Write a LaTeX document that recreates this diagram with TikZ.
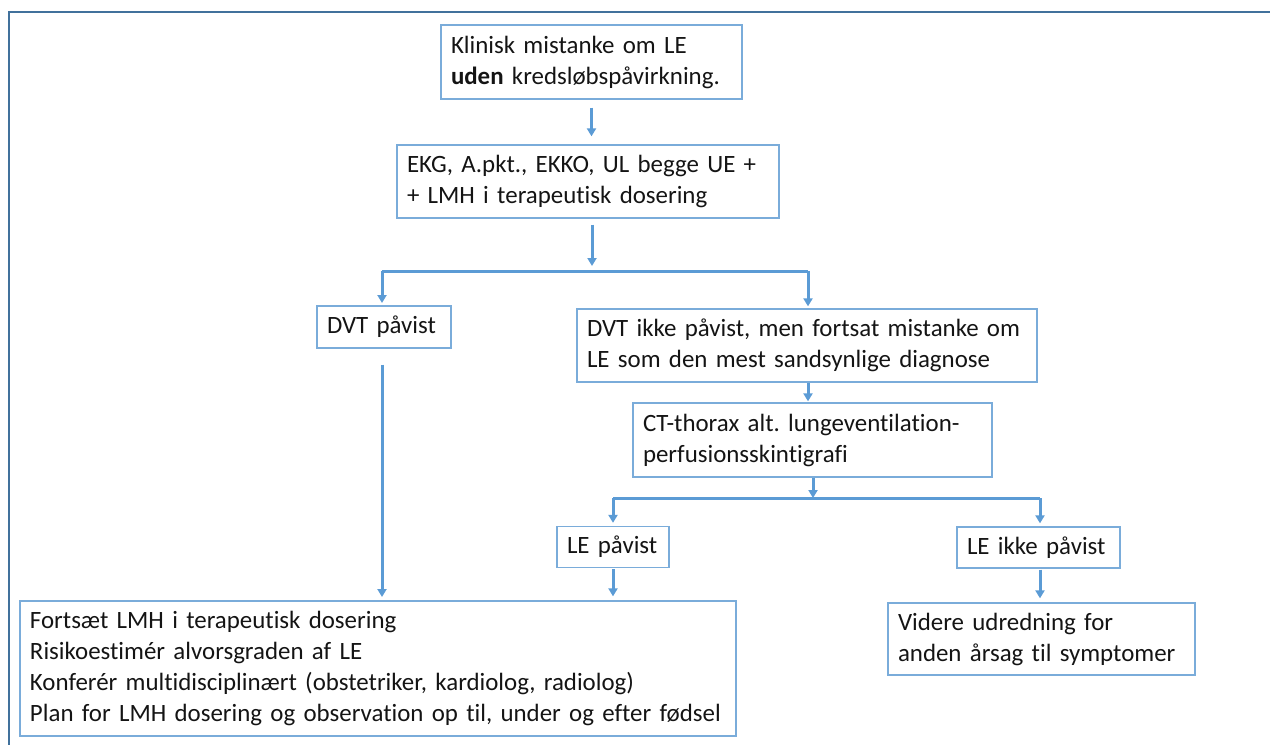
\documentclass[tikz,border=0pt]{standalone}
\usepackage{fontspec}
\setmainfont{Carlito}[Ligatures=NoCommon]
\frenchspacing
\usetikzlibrary{arrows.meta}
\definecolor{arrowblue}{HTML}{5B9BD5}
\definecolor{boxblue}{HTML}{7AACDA}
\definecolor{frameblue}{HTML}{41719C}
\tikzset{
  fbox/.style={draw=boxblue, line width=1.3pt, rectangle, inner xsep=10pt, inner ysep=0pt,
    align=left, font=\fontsize{24.9}{31}\selectfont, text=black!92, anchor=center},
  conn/.style={draw=arrowblue, line width=3pt},
  arr/.style={conn, -{Triangle[length=8pt,width=9pt]}},
}
\begin{document}
\begin{tikzpicture}[x=1pt,y=-1pt]
\useasboundingbox (0,0) rectangle (1270,745);
\draw[frameblue, line width=2.5pt] (1270,12) -- (9,12) -- (9,745);

\node[fbox, minimum height=74pt, text width=281pt] (b1) at (591.5,62)
  {\mbox{Klinisk mistanke om LE}\\\mbox{\textbf{uden} kredsløbspåvirkning.}};
\node[fbox, minimum height=73pt, text width=362pt] (b2) at (588,181.5)
  {\mbox{EKG, A.pkt., EKKO, UL begge UE +}\\\mbox{+ LMH i terapeutisk dosering}};
\node[fbox, minimum height=42pt, text width=114pt] (b3) at (384,327)
  {\mbox{DVT påvist}};
\node[fbox, minimum height=73pt, text width=440pt] (b4) at (807,345.5)
  {\mbox{DVT ikke påvist, men fortsat mistanke om}\\\mbox{LE som den mest sandsynlige diagnose}};
\node[fbox, minimum height=74pt, text width=339pt] (b5) at (812.5,440)
  {\mbox{CT-thorax alt. lungeventilation-}\\\mbox{perfusionsskintigrafi}};
\node[fbox, minimum height=41pt, text width=92pt] (b6) at (613,547)
  {\mbox{LE påvist}};
\node[fbox, minimum height=41pt, text width=143pt] (b7) at (1038.5,547.5)
  {\mbox{LE ikke påvist}};
\node[fbox, minimum height=135pt, text width=696pt] (b8) at (378,668.5)
  {\mbox{Fortsæt LMH i terapeutisk dosering}\\\mbox{Risikoestimér alvorsgraden af LE}\\\mbox{Konferér multidisciplinært (obstetriker, kardiolog, radiolog)}\\\mbox{Plan for LMH dosering og observation op til, under og efter fødsel}};
\node[fbox, minimum height=72pt, text width=287pt] (b9) at (1041.5,639)
  {\mbox{Videre udredning for}\\\mbox{anden årsag til symptomer}};

\coordinate (j1) at (592,271);
\coordinate (j2) at (813,498);

\draw[arr, shorten <=8pt, shorten >=8pt] (b1.south) -- (b1.south |- b2.north);
\draw[arr, shorten <=6pt, shorten >=5pt] (b2.south -| j1) -- (j1);
\draw[conn] (382,271) -- (808,271);
\draw[arr, shorten >=3pt] (382,271) -- (382,306);
\draw[arr, shorten >=2pt] (808,271) -- (b4.north -| 808,0);
\draw[arr, shorten <=16pt, shorten >=4pt] (b3.south -| 382,0) -- (382,601);
\draw[arr, shorten >=1pt] (b4.south -| 808,0) -- (b5.north -| 808,0);
\draw[arr] (b5.south -| j2) -- (j2);
\draw[conn] (613,498) -- (1040,498);
\draw[arr, shorten >=3pt] (613,498) -- (b6.north);
\draw[arr, shorten >=3pt] (1040,498) -- (b7.north -| 1040,0);
\draw[arr, shorten <=1pt, shorten >=4pt] (b6.south) -- (b6.south |- b8.north);
\draw[arr, shorten <=1pt, shorten >=4pt] (b7.south -| 1040,0) -- (b9.north -| 1040,0);
\end{tikzpicture}
\end{document}
